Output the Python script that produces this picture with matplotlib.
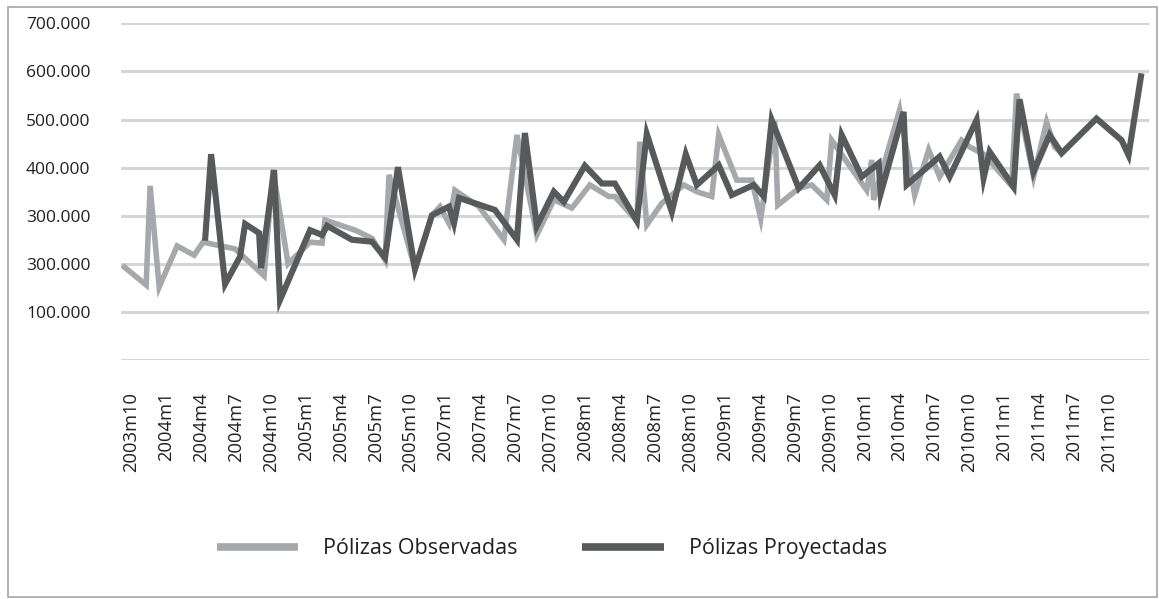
import matplotlib
matplotlib.use("Agg")
import matplotlib.pyplot as plt
from matplotlib.patches import Rectangle
from matplotlib.transforms import ScaledTranslation

# Category labels (one every 3 months on the axis)
month_labels = ["2003m10", "2004m1", "2004m4", "2004m7", "2004m10", "2005m1", "2005m4",
                "2005m7", "2005m10", "2007m1", "2007m4", "2007m7", "2007m10", "2008m1",
                "2008m4", "2008m7", "2008m10", "2009m1", "2009m4", "2009m7", "2009m10",
                "2010m1", "2010m4", "2010m7", "2010m10", "2011m1", "2011m4", "2011m7",
                "2011m10"]
label_pos = [3 * k for k in range(len(month_labels))]

y_ticks = [0, 100, 200, 300, 400, 500, 600, 700]
y_labels = ["", "100.000", "300.000", "300.000", "400.000", "500.000", "600.000", "700.000"]

# Observed policies (thousands), position along the category axis
obs_pos = [0.0, 2.06, 2.40, 3.18, 4.72, 6.18, 6.95, 9.70, 12.19, 12.96, 14.25, 16.14,
           17.17, 17.42, 20.00, 21.46, 22.58, 22.92, 25.15, 26.61, 27.30, 28.07, 28.58,
           30.64, 32.79, 33.91, 35.62, 37.08, 38.63, 40.17, 41.80, 42.32, 44.21, 44.46,
           45.06, 46.35, 48.24, 49.36, 50.64, 51.24, 52.79, 54.08, 54.85, 56.05, 56.31,
           58.11, 59.23, 60.52, 60.94, 63.95, 64.38, 64.55, 66.78, 68.07, 69.27, 70.21,
           72.10, 72.79, 74.00, 76.40, 76.82, 78.28, 79.40, 80.09, 80.69]
obs_val = [197, 156, 362, 152, 237, 218, 245, 231, 175, 395, 200, 245,
           243, 291, 270, 253, 208, 385, 189, 301, 319, 284, 353,
           319, 250, 468, 260, 333, 316, 364, 340, 340, 289, 454,
           281, 326, 364, 350, 340, 468, 374, 374, 294, 497, 322,
           357, 364, 333, 457, 353, 416, 333, 520, 343, 437, 381,
           457, 443, 428, 362, 554, 381, 495, 443, 430]

# Projected policies (thousands)
proj_pos = [7.12, 7.64, 8.84, 10.13, 10.56, 11.76, 11.93, 13.05, 13.56, 16.14, 17.17,
            17.60, 19.74, 21.46, 22.58, 23.69, 25.15, 26.61, 28.07, 28.50, 28.93, 32.02,
            33.91, 34.59, 35.62, 37.08, 37.94, 39.74, 41.20, 42.32, 44.21, 45.06, 47.21,
            48.41, 49.36, 51.24, 52.36, 54.25, 55.11, 55.79, 58.11, 59.91, 61.20, 61.80,
            63.52, 64.98, 65.15, 67.12, 67.38, 70.21, 71.07, 73.39, 73.99, 74.51, 76.57,
            77.08, 78.28, 79.66, 80.69, 83.69, 85.84, 86.44, 87.55]
proj_val = [248, 428, 158, 215, 283, 264, 191, 395, 125, 270, 260,
            279, 250, 246, 213, 401, 189, 301, 319, 284, 337, 312,
            250, 472, 279, 350, 329, 404, 367, 367, 289, 470, 308,
            428, 364, 405, 343, 364, 340, 499, 357, 405, 343, 468,
            381, 409, 346, 516, 364, 423, 381, 499, 378, 433, 360,
            542, 391, 468, 430, 502, 457, 426, 596]

plt.rcParams["font.family"] = ["Open Sans", "DejaVu Sans"]
text_color = "#231f20"

fig = plt.figure(figsize=(11.59, 5.99), dpi=100)
ax = fig.add_axes([0.1044, 0.399, 0.8870, 0.562])

ax.plot(obs_pos, obs_val, color="#a7a8ab", lw=4.0, solid_joinstyle="miter",
        solid_capstyle="butt", label="Pólizas Observadas", zorder=3)
ax.plot(proj_pos, proj_val, color="#58595b", lw=4.4, solid_joinstyle="miter",
        solid_capstyle="butt", label="Pólizas Proyectadas", zorder=4)

ax.set_xlim(-0.1, 88.2)
ax.set_ylim(0, 700)
ax.set_yticks(y_ticks)
ax.set_yticklabels(y_labels, fontsize=12.5, color=text_color)
ax.set_xticks(label_pos)
ax.set_xticklabels(month_labels, rotation=90, fontsize=13.2, color=text_color)
ax.tick_params(axis="both", length=0)
ax.tick_params(axis="y", pad=22)
ax.tick_params(axis="x", pad=23)
offset = ScaledTranslation(0.09, 0, fig.dpi_scale_trans)
for lab in ax.get_xticklabels():
    lab.set_transform(lab.get_transform() + offset)

ax.grid(axis="y", color="#d5d5d6", lw=2.2)
ax.set_axisbelow(True)
for s in ax.spines.values():
    s.set_visible(False)

leg = fig.legend(loc="center", bbox_to_anchor=(0.476, 0.0835), ncol=2, frameon=False,
                 fontsize=15.5, handlelength=3.8, handletextpad=1.15, columnspacing=3.0)
for t in leg.get_texts():
    t.set_color(text_color)
for h in leg.get_lines():
    h.set_linewidth(5.5)

# outer frame
fig.patches.append(Rectangle((0.007, 0.003), 0.991, 0.985, transform=fig.transFigure,
                             fill=False, edgecolor="#a5a5a8", lw=1.2))

fig.savefig("out.png", dpi=100)
